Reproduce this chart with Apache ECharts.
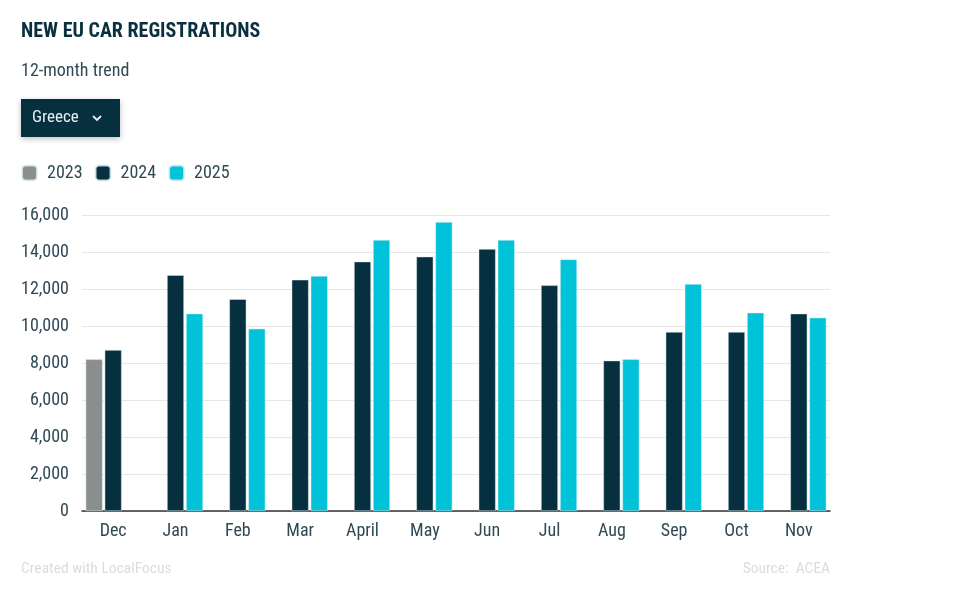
<!DOCTYPE html>
<html>
<head>
<meta charset="utf-8">
<script src="https://cdn.jsdelivr.net/npm/echarts@6/dist/echarts.min.js"></script>
<style>
html,body{margin:0;padding:0;background:#fff;}
#chart{width:962px;height:600px;}
</style>
</head>
<body>
<div id="chart"></div>
<script>
var categories = ['Dec','Jan','Feb','Mar','April','May','Jun','Jul','Aug','Sep','Oct','Nov'];
var seriesNames = ['2023','2024','2025'];
var values2023 = [8200, null, null, null, null, null, null, null, null, null, null, null];
var values2024 = [8700, 12750, 11450, 12500, 13480, 13750, 14160, 12200, 8130, 9680, 9680, 10670];
var values2025 = [null, 10670, 9850, 12700, 14650, 15620, 14650, 13600, 8200, 12270, 10720, 10450];
var yTicks = [0, 2000, 4000, 6000, 8000, 10000, 12000, 14000, 16000];

var FONT = '"Roboto Condensed","Liberation Sans Narrow",Roboto,sans-serif';
var colors = ['#8a8f8e', '#062f3f', '#00c3d9'];
var chart = echarts.init(document.getElementById('chart'));

function fmt(v){ return v.toString().replace(/\B(?=(\d{3})+(?!\d))/g, ','); }

var seriesData = [values2023, values2024, values2025];
var series = seriesNames.map(function(name, i){
  return {
    name: name,
    type: 'bar',
    data: seriesData[i],
    barWidth: 17,
    barGap: '12%',
    itemStyle: { color: colors[i], borderColor: 'rgba(220,240,245,0.8)', borderWidth: 0.6 },
    emphasis: { disabled: true }
  };
});

chart.setOption({
  animation: false,
  color: colors,
  textStyle: { fontFamily: FONT },
  title: [
    { text: 'NEW EU CAR REGISTRATIONS', left: 16, top: 17,
      textStyle: { fontFamily: FONT, fontSize: 20, fontWeight: 'bold', color: '#0a2f3f' } },
    { text: '12-month trend', left: 16, top: 57,
      textStyle: { fontFamily: FONT, fontSize: 18, fontWeight: 'normal', color: '#2f4a55' } },
    { text: 'Created with LocalFocus', left: 16, top: 556,
      textStyle: { fontFamily: FONT, fontSize: 15.5, fontWeight: 'normal', color: '#dcdcdc' } },
    { text: 'Source:  ACEA', right: 127, top: 556,
      textStyle: { fontFamily: FONT, fontSize: 15.5, fontWeight: 'normal', color: '#dcdcdc' } }
  ],
  legend: {
    left: 16, top: 159,
    itemWidth: 15, itemHeight: 15, itemGap: 12,
    icon: 'roundRect',
    data: seriesNames,
    selectedMode: false,
    textStyle: { fontFamily: FONT, fontSize: 18, color: '#2f4a55', padding: [0,0,0,5] }
  },
  grid: { left: 82, right: 132, top: 215, bottom: 89, containLabel: false },
  xAxis: {
    type: 'category',
    data: categories,
    axisLine: { lineStyle: { color: '#333', width: 1.5 } },
    axisTick: { show: false },
    axisLabel: { fontFamily: FONT, fontSize: 18, color: '#2f4a55', margin: 11 }
  },
  yAxis: {
    type: 'value',
    min: yTicks[0], max: yTicks[yTicks.length-1], interval: 2000,
    axisLine: { show: false },
    axisTick: { show: false },
    splitLine: { lineStyle: { color: '#e6e6e6', width: 1 } },
    axisLabel: { fontFamily: FONT, fontSize: 18, color: '#2f4a55', margin: 13,
      formatter: function(v){ return fmt(v); } }
  },
  graphic: [
    { type: 'rect', shape: { x: 21, y: 99, width: 99, height: 38 },
      style: { fill: '#07303f', shadowBlur: 6, shadowColor: 'rgba(0,0,0,0.25)', shadowOffsetY: 2 } },
    { type: 'text', x: 32, y: 118,
      style: { text: 'Greece', fontFamily: FONT, fontSize: 17, fontWeight: 'normal', fill: '#e8eef0', verticalAlign: 'middle' } },
    { type: 'polyline', shape: { points: [[93, 116], [97, 120], [101, 116]] },
      style: { stroke: '#e8eef0', lineWidth: 1.8, fill: null } }
  ],
  series: series
});
</script>
</body>
</html>
